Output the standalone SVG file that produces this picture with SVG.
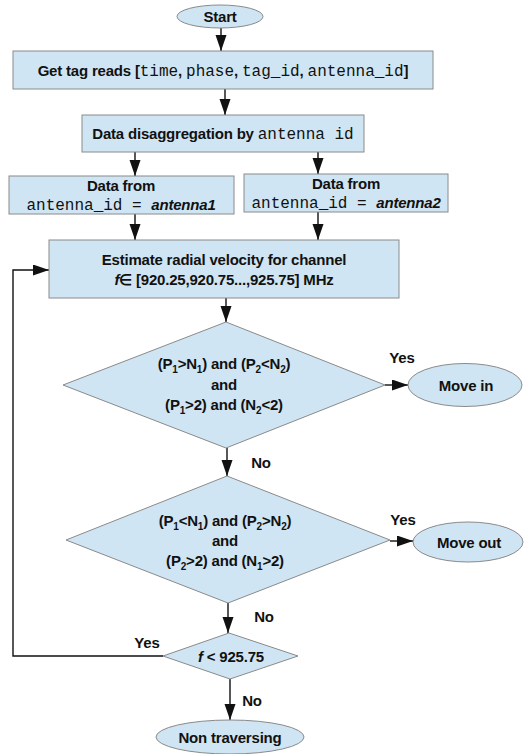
<svg xmlns="http://www.w3.org/2000/svg" width="529" height="754" viewBox="0 0 529 754">
<style>
.n{fill:#d0e5f3;stroke:#8a8a8a;stroke-width:1}
.t{font-family:"Liberation Sans",Arial,sans-serif;font-weight:bold;font-size:15px;letter-spacing:-0.2px;fill:#111;text-anchor:middle}
.m{font-family:"Liberation Mono","Courier New",monospace;font-weight:normal;font-size:16px;letter-spacing:0}
.i{font-style:italic}
.s{font-size:10px}
.c{fill:none;stroke:#111;stroke-width:1.4}
</style>
<defs>
<marker id="a" markerUnits="userSpaceOnUse" markerWidth="16" markerHeight="12" refX="16" refY="5.5" orient="auto">
<path d="M0,0 L16,5.5 L0,11 Z" fill="#111"/>
</marker>
</defs>
<rect width="529" height="754" fill="#fff"/>
<g id="connectors">
<line class="c" x1="221" y1="28" x2="221" y2="51" marker-end="url(#a)"/>
<line class="c" x1="225" y1="89" x2="225" y2="115" marker-end="url(#a)"/>
<line class="c" x1="135" y1="152" x2="135" y2="176" marker-end="url(#a)"/>
<line class="c" x1="318" y1="152" x2="318" y2="174" marker-end="url(#a)"/>
<line class="c" x1="135" y1="214" x2="135" y2="240" marker-end="url(#a)"/>
<line class="c" x1="318" y1="212" x2="318" y2="240" marker-end="url(#a)"/>
<line class="c" x1="226" y1="298" x2="226" y2="322" marker-end="url(#a)"/>
<line class="c" x1="385" y1="385" x2="408" y2="385" marker-end="url(#a)"/>
<line class="c" x1="227" y1="448" x2="227" y2="476" marker-end="url(#a)"/>
<line class="c" x1="390" y1="541" x2="413" y2="541" marker-end="url(#a)"/>
<line class="c" x1="228" y1="603" x2="228" y2="633" marker-end="url(#a)"/>
<polyline class="c" points="163,656 13,656 13,270 49,270" marker-end="url(#a)"/>
<line class="c" x1="230" y1="679" x2="230" y2="720" marker-end="url(#a)"/>
<text class="t" x="402" y="363">Yes</text>
<text class="t" x="261" y="468">No</text>
<text class="t" x="403" y="525">Yes</text>
<text class="t" x="264" y="622">No</text>
<text class="t" x="147" y="648">Yes</text>
<text class="t" x="252" y="706">No</text>
</g>
<g id="start">
<ellipse class="n" cx="220" cy="16.5" rx="43" ry="11.5"/>
<text class="t" x="220" y="22">Start</text>
</g>
<g id="get-tag-reads">
<rect class="n" x="13" y="51" width="420" height="38"/>
<text class="t" x="223" y="76">Get tag reads [<tspan class="m">time</tspan>, <tspan class="m">phase</tspan>,  <tspan class="m">tag_id</tspan>, <tspan class="m">antenna_id</tspan>]</text>
</g>
<g id="disaggregation">
<rect class="n" x="82" y="115" width="282" height="37"/>
<text class="t" x="223" y="139">Data disaggregation by <tspan class="m">antenna id</tspan></text>
</g>
<g id="antenna1">
<rect class="n" x="9" y="176" width="225" height="38"/>
<text class="t" x="121" y="191">Data from</text>
<text class="t" x="121" y="210"><tspan class="m">antenna_id = </tspan><tspan class="i">antenna1</tspan></text>
</g>
<g id="antenna2">
<rect class="n" x="244" y="174" width="204" height="38"/>
<text class="t" x="346" y="189">Data from</text>
<text class="t" x="346" y="208"><tspan class="m">antenna_id = </tspan><tspan class="i">antenna2</tspan></text>
</g>
<g id="estimate">
<rect class="n" x="49" y="240" width="350" height="58"/>
<text class="t" x="224" y="265">Estimate radial velocity for channel</text>
<text class="t" x="224" y="285"><tspan class="i">f</tspan>∈ [920.25,920.75...,925.75] MHz</text>
</g>
<g id="decision-in">
<polygon class="n" points="226,322 385,385 226,448 63,385"/>
<text class="t" x="224" y="369">(P<tspan class="s" dy="4">1</tspan><tspan dy="-4">&gt;N</tspan><tspan class="s" dy="4">1</tspan><tspan dy="-4">) and (P</tspan><tspan class="s" dy="4">2</tspan><tspan dy="-4">&lt;N</tspan><tspan class="s" dy="4">2</tspan><tspan dy="-4">)</tspan></text>
<text class="t" x="224" y="390">and</text>
<text class="t" x="224" y="410">(P<tspan class="s" dy="4">1</tspan><tspan dy="-4">&gt;2) and (N</tspan><tspan class="s" dy="4">2</tspan><tspan dy="-4">&lt;2)</tspan></text>
</g>
<g id="move-in">
<ellipse class="n" cx="465" cy="385" rx="57" ry="21.5"/>
<text class="t" x="466" y="391">Move in</text>
</g>
<g id="decision-out">
<polygon class="n" points="227,476 390,540 228,603 66,540"/>
<text class="t" x="225" y="526">(P<tspan class="s" dy="4">1</tspan><tspan dy="-4">&lt;N</tspan><tspan class="s" dy="4">1</tspan><tspan dy="-4">) and (P</tspan><tspan class="s" dy="4">2</tspan><tspan dy="-4">&gt;N</tspan><tspan class="s" dy="4">2</tspan><tspan dy="-4">)</tspan></text>
<text class="t" x="225" y="546">and</text>
<text class="t" x="225" y="566">(P<tspan class="s" dy="4">2</tspan><tspan dy="-4">&gt;2) and (N</tspan><tspan class="s" dy="4">1</tspan><tspan dy="-4">&gt;2)</tspan></text>
</g>
<g id="move-out">
<ellipse class="n" cx="468" cy="542" rx="55" ry="20"/>
<text class="t" x="469" y="548">Move out</text>
</g>
<g id="loop-check">
<polygon class="n" points="229,633 298,656 230,679 163,656"/>
<text class="t" x="231" y="662"><tspan class="i">f</tspan> &lt; 925.75</text>
</g>
<g id="non-traversing">
<ellipse class="n" cx="230" cy="737" rx="74" ry="17"/>
<text class="t" x="230" y="743">Non traversing</text>
</g>
</svg>
